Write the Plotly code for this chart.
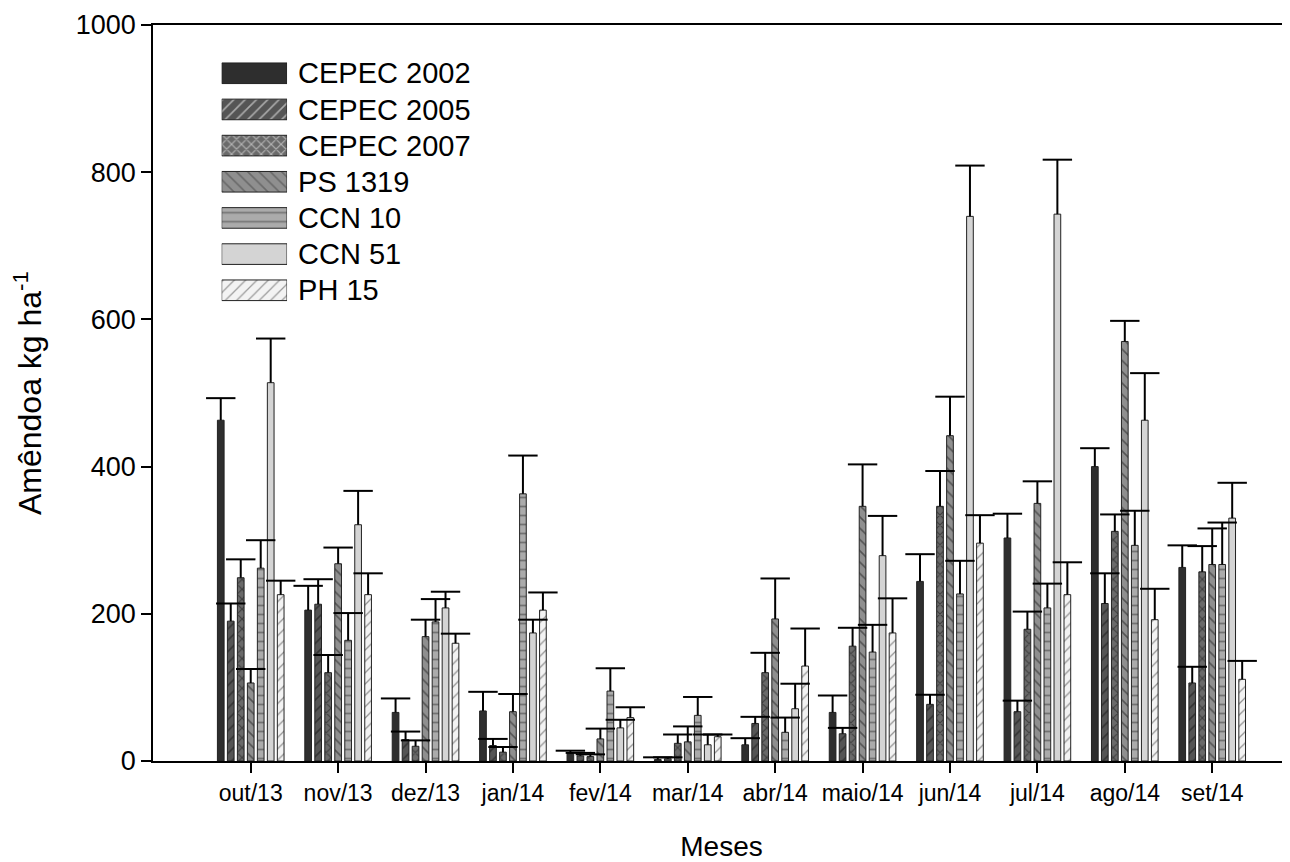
import plotly.graph_objects as go

months = ["out/13", "nov/13", "dez/13", "jan/14", "fev/14", "mar/14",
          "abr/14", "maio/14", "jun/14", "jul/14", "ago/14", "set/14"]
series = ["CEPEC 2002", "CEPEC 2005", "CEPEC 2007", "PS 1319", "CCN 10", "CCN 51", "PH 15"]

cepec2002 = [463, 205, 66, 68, 10, 2, 22, 66, 244, 303, 400, 263]
cepec2002_err = [30, 33, 19, 26, 4, 3, 9, 23, 37, 33, 25, 30]
cepec2005 = [190, 213, 29, 21, 7, 3, 51, 37, 77, 67, 214, 106]
cepec2005_err = [24, 34, 11, 9, 4, 2, 9, 8, 13, 15, 41, 22]
cepec2007 = [249, 120, 20, 12, 6, 24, 120, 156, 346, 179, 312, 257]
cepec2007_err = [25, 24, 8, 7, 3, 12, 27, 25, 48, 24, 23, 35]
ps1319 = [106, 268, 169, 67, 30, 26, 193, 346, 442, 350, 570, 267]
ps1319_err = [19, 22, 23, 24, 14, 21, 55, 57, 53, 30, 28, 49]
ccn10 = [262, 164, 189, 363, 95, 62, 39, 148, 227, 208, 293, 267]
ccn10_err = [38, 37, 31, 52, 31, 25, 20, 37, 45, 33, 47, 57]
ccn51 = [514, 321, 208, 174, 45, 22, 71, 279, 740, 743, 463, 330]
ccn51_err = [60, 46, 22, 18, 11, 14, 34, 54, 69, 74, 64, 48]
ph15 = [226, 226, 160, 205, 59, 33, 129, 174, 296, 226, 192, 111]
ph15_err = [19, 29, 13, 24, 14, 3, 51, 47, 38, 44, 42, 25]

y_ticks = [0, 200, 400, 600, 800, 1000]

means = [cepec2002, cepec2005, cepec2007, ps1319, ccn10, ccn51, ph15]
errs = [cepec2002_err, cepec2005_err, cepec2007_err, ps1319_err, ccn10_err, ccn51_err, ph15_err]

fills = ["#2e2e2e", "#555555", "#6a6a6a", "#8f8f8f", "#ababab", "#d4d4d4", "#f3f3f3"]
shapes = ["", "/", "x", "\\", "-", "", "/"]
fgs = ["#000000", "#111111", "#111111", "#1a1a1a", "#3a3a3a", "#000000", "#333333"]
sizes = [8, 8, 7, 8, 9, 8, 8]
solids = [0.2, 0.2, 0.3, 0.2, 0.2, 0.2, 0.16]

FONT = "Liberation Sans, Arial, sans-serif"

n = len(series)
group_w = 0.8
slot = group_w / n
bar_w = slot * 0.67

fig = go.Figure()
for k in range(n):
    xs = [i - group_w / 2 + (k + 0.5) * slot for i in range(len(months))]
    fig.add_trace(go.Bar(
        x=xs, y=means[k], width=bar_w, name=series[k],
        marker=dict(color=fills[k],
                    pattern=dict(shape=shapes[k], fgcolor=fgs[k], bgcolor=fills[k],
                                 size=sizes[k], solidity=solids[k]),
                    line=dict(color="#222222", width=1)),
        error_y=dict(type="data", symmetric=False, array=errs[k],
                     arrayminus=[0] * len(months), width=0, thickness=2, color="black"),
        showlegend=False, hoverinfo="skip"))
for k in range(n):
    xs = [i - group_w / 2 + (k + 0.5) * slot for i in range(len(months))]
    fig.add_trace(go.Scatter(
        x=xs, y=[m + e for m, e in zip(means[k], errs[k])], mode="markers",
        marker=dict(symbol="line-ew", size=21, color="black",
                    line=dict(color="black", width=2)),
        showlegend=False, hoverinfo="skip"))

# legend drawn as a small bar subplot
fig.add_trace(go.Bar(
    y=series, x=[1] * n, orientation="h", xaxis="x2", yaxis="y2", width=0.57,
    marker=dict(color=fills,
                pattern=dict(shape=shapes, fgcolor=fgs, bgcolor=fills, size=sizes, solidity=solids),
                line=dict(color="#222222", width=1)),
    showlegend=False, hoverinfo="skip"))

fig.update_layout(
    width=1282, height=854,
    margin=dict(l=145, r=0, t=17, b=101),
    paper_bgcolor="white", plot_bgcolor="white",
    barmode="overlay",
    font=dict(family=FONT, color="black"),
    xaxis=dict(range=[-1.118, 11.89], tickmode="array", tickvals=list(range(len(months))),
               ticktext=months, ticks="outside", ticklen=10, tickwidth=1.5, tickcolor="black",
               showline=True, linewidth=2, linecolor="black", mirror=True,
               showgrid=False, zeroline=False, tickfont=dict(size=23),
               title=dict(text="Meses", font=dict(size=28), standoff=34), automargin=False),
    yaxis=dict(range=[0, 1000], tickmode="array", tickvals=y_ticks,
               ticks="outside", ticklen=10, tickwidth=1.5, tickcolor="black",
               showline=True, linewidth=1.5, linecolor="black",
               showgrid=False, zeroline=False, tickfont=dict(size=27),
               title=dict(text="Amêndoa kg ha<sup>-1</sup>", font=dict(size=32), standoff=26),
               automargin=False),
    xaxis2=dict(domain=[0.0604, 0.1179], range=[0, 1], anchor="y2", visible=False),
    yaxis2=dict(domain=[0.615, 0.959], anchor="x2", type="category",
                categoryorder="array", categoryarray=series, autorange="reversed",
                side="right", showline=False, showgrid=False, zeroline=False, ticks="",
                ticklabelstandoff=10, tickfont=dict(size=29)),
)

fig.write_html("out.html")
